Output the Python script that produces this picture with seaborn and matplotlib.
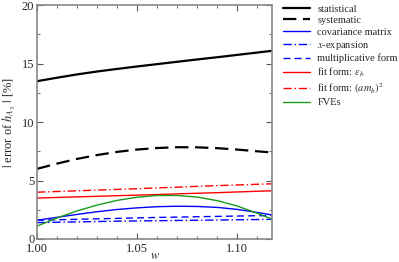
import numpy as np
import pandas as pd
import seaborn as sns
import matplotlib.pyplot as plt
from matplotlib.ticker import MultipleLocator

# values
w = [1.000, 1.010, 1.020, 1.030, 1.040, 1.050, 1.060, 1.070, 1.080, 1.090,
     1.100, 1.110, 1.1175]
statistical = [13.5, 13.8, 14.08, 14.33, 14.55, 14.76, 14.96, 15.16, 15.36,
               15.55, 15.75, 15.95, 16.1]
systematic = [6.0, 6.45, 6.85, 7.18, 7.45, 7.65, 7.78, 7.85, 7.84, 7.77,
              7.65, 7.5, 7.4]
covariance = [1.6, 1.85, 2.1, 2.33, 2.52, 2.66, 2.76, 2.8, 2.78, 2.7,
              2.53, 2.27, 2.05]
x_expansion = [1.4, 1.43, 1.46, 1.49, 1.52, 1.54, 1.56, 1.58, 1.6, 1.62,
               1.64, 1.66, 1.68]
multiplicative = [1.6, 1.64, 1.68, 1.72, 1.76, 1.8, 1.84, 1.87, 1.9, 1.93,
                  1.96, 1.99, 2.0]
fit_eps = [3.5, 3.55, 3.6, 3.65, 3.7, 3.75, 3.8, 3.86, 3.91, 3.96,
           4.02, 4.08, 4.12]
fit_amb = [4.0, 4.06, 4.12, 4.18, 4.24, 4.3, 4.37, 4.43, 4.5, 4.56,
           4.62, 4.68, 4.72]
fves = [1.1, 1.8, 2.4, 2.9, 3.3, 3.57, 3.72, 3.72, 3.58, 3.28,
        2.82, 2.2, 1.7]

series = [
    ("statistical", statistical, "black", "-", 1.6),
    ("systematic", systematic, "black", (0, (6, 3)), 1.6),
    ("covariance matrix", covariance, "blue", "-", 1.0),
    (r"$x$-expansion", x_expansion, "blue", (0, (6, 2, 1, 2)), 1.0),
    ("multiplicative form", multiplicative, "blue", (0, (5, 3)), 1.0),
    (r"fit form: $\epsilon_b$", fit_eps, "red", "-", 1.0),
    (r"fit form: $(am_b)^2$", fit_amb, "red", (0, (6, 2, 1, 2)), 1.0),
    ("FVEs", fves, "#1a9a1a", "-", 1.0),
]

sns.set_style("ticks")
plt.rcParams['font.family'] = ['Liberation Serif', 'DejaVu Serif']
plt.rcParams['mathtext.fontset'] = 'stix'

fig, ax = plt.subplots(figsize=(3.99, 2.62), dpi=100)
fig.subplots_adjust(left=0.093, right=0.682, top=0.98, bottom=0.088)

for name, vals, col, ls, lw in series:
    df = pd.DataFrame({"w": w, "v": vals})
    sns.lineplot(data=df, x="w", y="v", ax=ax, color=col, linestyle=ls,
                 linewidth=lw, label=name)

ax.set_xlim(1.0, 1.1175)
ax.set_ylim(0, 20)
ax.xaxis.set_major_locator(MultipleLocator(0.05))
ax.xaxis.set_minor_locator(MultipleLocator(0.01))
ax.yaxis.set_major_locator(MultipleLocator(5))
ax.yaxis.set_minor_locator(MultipleLocator(2.5))
ax.xaxis.set_major_formatter(plt.FuncFormatter(lambda v, p: f"{v:.2f}"))
ax.yaxis.set_major_formatter(plt.FuncFormatter(lambda v, p: f"{v:.0f}"))
ax.tick_params(which="both", direction="in", top=True, right=True,
               labelsize=9, color="#555555", pad=2)
ax.tick_params(axis="x", pad=3)
ax.tick_params(which="major", length=4)
ax.tick_params(which="minor", length=2)
for s in ax.spines.values():
    s.set_color("#888888")
    s.set_linewidth(1.2)

ax.set_xlabel(r"$w$", fontsize=9, labelpad=-4)
ax.set_ylabel(r"$|$ error of $h_{A_3}$ $|$ [%]", fontsize=9, labelpad=3)

ax.legend(loc="upper left", bbox_to_anchor=(1.02, 1.03), frameon=False,
          fontsize=7.5, handlelength=2.6, labelspacing=0.2, handletextpad=0.7,
          borderaxespad=0.2)

fig.savefig("out.png", dpi=100)
